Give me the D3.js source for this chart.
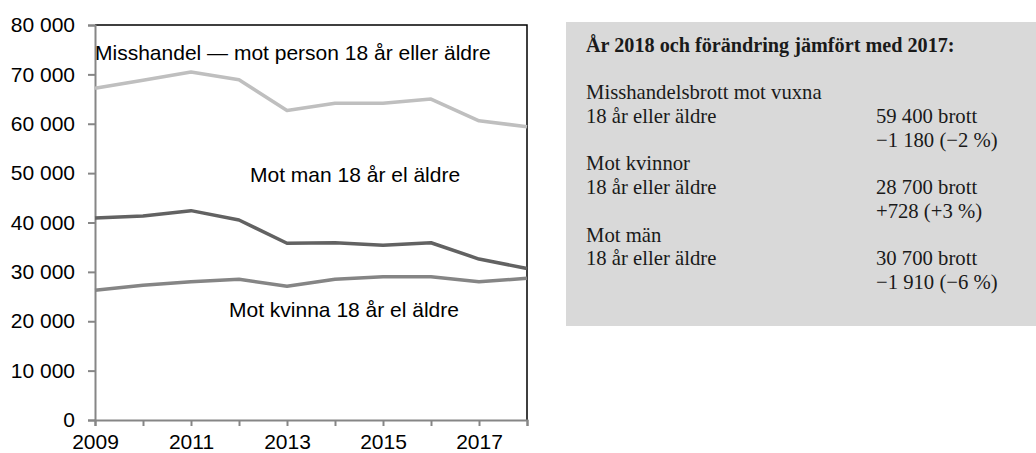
<!DOCTYPE html>
<html><head><meta charset="utf-8">
<script src="https://cdn.jsdelivr.net/npm/d3@7"></script>
<style>
html,body{margin:0;padding:0;background:#fff;}
svg{display:block;}
</style></head>
<body>
<svg id="c" width="1036" height="453"></svg>
<script>
const years = [2009,2010,2011,2012,2013,2014,2015,2016,2017,2018];
const totalValues = [67200,68800,70500,68900,62700,64150,64150,65000,60600,59400];
const manValues   = [40900,41300,42400,40500,35800,35900,35400,35900,32600,30700];
const kvinnaValues= [26300,27300,28000,28500,27100,28500,29000,29000,28000,28700];
const yTicks = [0,10000,20000,30000,40000,50000,60000,70000,80000];
const xTickLabels = [2009,2011,2013,2015,2017];
const seriesLabels = ["Misshandel \u2014 mot person 18 år eller äldre","Mot man 18 år el äldre","Mot kvinna 18 år el äldre"];
const boxTitle = "År 2018 och förändring jämfört med 2017:";
const boxLeft = ["Misshandelsbrott mot vuxna","18 år eller äldre","","Mot kvinnor","18 år eller äldre","","Mot män","18 år eller äldre",""];
const boxRight = ["","59 400 brott","\u22121 180 (\u22122 %)","","28 700 brott","+728 (+3 %)","","30 700 brott","\u22121 910 (\u22126 %)"];

const svg = d3.select("#c");
const x = d3.scaleLinear().domain([2009,2018]).range([95,527]);
const y = d3.scaleLinear().domain([0,80000]).range([420,25]);
const fmt = v => d3.format(",")(v).replace(/,/g," ");
const sans = "Liberation Sans, Arial, sans-serif";

// frame top/right
svg.append("path").attr("d",`M${x(2009)},${y(80000)}H${x(2018)}V${y(0)}`)
  .attr("fill","none").attr("stroke","#000").attr("stroke-width",1.5);

// y axis
const ya = svg.append("g").attr("transform",`translate(${x(2009)},0)`)
  .call(d3.axisLeft(y).tickValues(yTicks).tickFormat(fmt).tickSize(7).tickPadding(13));
ya.select(".domain").attr("stroke","#868686").attr("stroke-width",2);
ya.selectAll(".tick line").attr("stroke","#868686").attr("stroke-width",2);
ya.selectAll(".tick text").attr("font-family",sans).attr("font-size",21).attr("fill","#000");

// x axis
const xa = svg.append("g").attr("transform",`translate(0,${y(0)})`)
  .call(d3.axisBottom(x).tickValues(years).tickFormat(d => xTickLabels.includes(d) ? d : "").tickSize(6));
xa.select(".domain").attr("stroke","#868686").attr("stroke-width",2);
xa.selectAll(".tick line").attr("stroke","#868686").attr("stroke-width",2);
xa.selectAll(".tick text").attr("font-family",sans).attr("font-size",21).attr("fill","#000")
  .attr("y",29).attr("dy",0);

const line = d3.line().x((d,i)=>x(years[i])).y(d=>y(d));
[[totalValues,"#bfbfbf"],[manValues,"#626262"],[kvinnaValues,"#858585"]].forEach(([vals,col])=>{
  svg.append("path").datum(vals).attr("d",line).attr("fill","none")
    .attr("stroke",col).attr("stroke-width",3.5).attr("stroke-linejoin","round");
});

const lab = svg.append("g").attr("font-family",sans).attr("font-size",21).attr("fill","#000");
lab.append("text").attr("x",95).attr("y",60).text(seriesLabels[0]);
lab.append("text").attr("x",250).attr("y",182).text(seriesLabels[1]);
lab.append("text").attr("x",229).attr("y",317).text(seriesLabels[2]);

// info box
svg.append("rect").attr("x",566).attr("y",22).attr("width",470).attr("height",304).attr("fill","#d9d9d9");
const bt = svg.append("g").attr("font-family","Liberation Serif, Times New Roman, serif").attr("font-size",20.7).attr("fill","#1a1a1a");
bt.append("text").attr("x",586).attr("y",52).attr("font-weight","bold").attr("font-size",20.2).text(boxTitle);
boxLeft.forEach((t,i)=>{ if(t) bt.append("text").attr("x",586).attr("y",99+i*23.75).text(t); });
boxRight.forEach((t,i)=>{ if(t) bt.append("text").attr("x",876).attr("y",99+i*23.75).text(t); });
</script>
</body></html>
